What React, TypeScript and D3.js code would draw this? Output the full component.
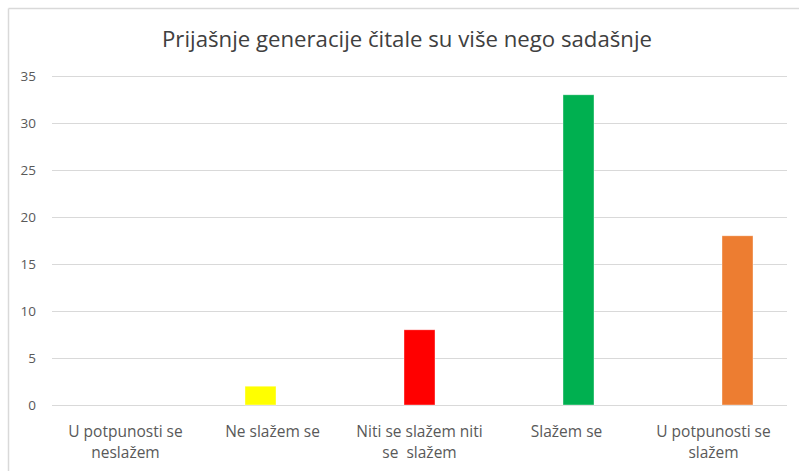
import React from "react";
import * as d3 from "d3";

const categories: string[][] = [
  ["U potpunosti se", "neslažem"],
  ["Ne slažem se"],
  ["Niti se slažem niti", "se  slažem"],
  ["Slažem se"],
  ["U potpunosti se", "slažem"],
];
const values: number[] = [0, 2, 8, 33, 18];
const colors: string[] = ["#4472c4", "#ffff00", "#ff0000", "#00b050", "#ed7d31"];
const yTicks: number[] = [0, 5, 10, 15, 20, 25, 30, 35];
const title = "Prijašnje generacije čitale su više nego sadašnje";

const W = 799;
const H = 471;
const FONT = "'Open Sans', 'Noto Sans', sans-serif";

export default function App() {
  const left = 52;
  const right = 787;
  const top = 76;
  const bottom = 405;

  const x = d3
    .scaleBand<number>()
    .domain(d3.range(categories.length))
    .range([left, right])
    .paddingInner(0)
    .paddingOuter(0);
  const y = d3.scaleLinear().domain([0, 35]).range([bottom, top]);
  const offset = d3
    .scalePoint<number>()
    .domain(d3.range(categories.length))
    .range([-24, 24]);
  const barW = 31;

  return (
    <svg
      width={W}
      height={H}
      style={{ position: "absolute", left: 0, top: 0, background: "#fff" }}
    >
      <rect x={0} y={0} width={W} height={H} fill="#fff" />
      <line x1={8.5} y1={8.5} x2={W} y2={8.5} stroke="#d9d9d9" strokeWidth={1.5} />
      <line x1={8.5} y1={8.5} x2={8.5} y2={H} stroke="#d9d9d9" strokeWidth={1.5} />
      <text
        x={407}
        y={47}
        textAnchor="middle"
        fontFamily={FONT}
        fontSize={22.2}
        fill="#404040"
      >
        {title}
      </text>
      {yTicks.map((t) => (
        <g key={t}>
          <line
            x1={left}
            x2={right}
            y1={Math.round(y(t)) + 0.5}
            y2={Math.round(y(t)) + 0.5}
            stroke="#d9d9d9"
            strokeWidth={1}
          />
          <text
            x={36}
            y={y(t)}
            dy="0.35em"
            textAnchor="end"
            fontFamily={FONT}
            fontSize={13.5}
            fill="#595959"
          >
            {t}
          </text>
        </g>
      ))}
      {values.map((v, i) => {
        const cx = (x(i) as number) + x.bandwidth() / 2 + (offset(i) as number);
        return (
          <rect
            key={i}
            x={cx - barW / 2}
            y={y(v)}
            width={barW}
            height={y(0) - y(v)}
            fill={colors[i]}
            stroke="#ffffff"
            strokeOpacity={0.5}
            strokeWidth={0.75}
          />
        );
      })}
      {categories.map((lines, i) => {
        const cx = (x(i) as number) + x.bandwidth() / 2;
        return (
          <text
            key={i}
            textAnchor="middle"
            fontFamily={FONT}
            fontSize={15.5}
            fill="#595959"
            style={{ whiteSpace: "pre" }}
          >
            {lines.map((l, j) => (
              <tspan key={j} x={cx} y={437 + j * 21}>
                {l}
              </tspan>
            ))}
          </text>
        );
      })}
    </svg>
  );
}
